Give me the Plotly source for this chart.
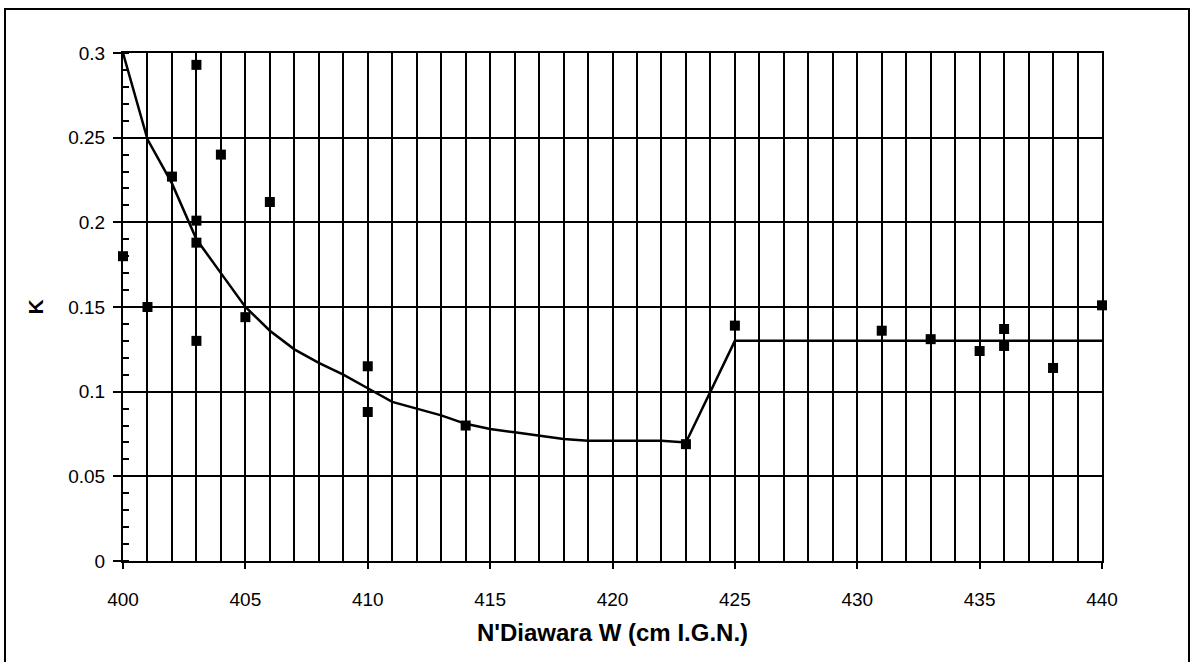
import plotly.graph_objects as go

# Measured points
obs_x = [400, 401, 402, 403, 403, 403, 403, 404, 405, 406, 410, 410, 414, 423,
         425, 431, 433, 435, 436, 436, 438, 440]
obs_k = [0.180, 0.150, 0.227, 0.293, 0.201, 0.188, 0.130, 0.240, 0.144, 0.212,
         0.115, 0.088, 0.080, 0.069, 0.139, 0.136, 0.131, 0.124, 0.137, 0.127,
         0.114, 0.151]

# Fitted curve
fit_x = [400, 401, 402, 403, 404, 405, 406, 407, 408, 409, 410, 411, 412, 413,
         414, 415, 416, 417, 418, 419, 420, 421, 422, 423, 425, 440]
fit_k = [0.300, 0.249, 0.223, 0.190, 0.170, 0.150, 0.136, 0.125, 0.117, 0.110,
         0.102, 0.094, 0.090, 0.086, 0.081, 0.078, 0.076, 0.074, 0.072, 0.071,
         0.071, 0.071, 0.071, 0.070, 0.130, 0.130]

x_ticks = [400, 405, 410, 415, 420, 425, 430, 435, 440]
y_ticks = [0, 0.05, 0.1, 0.15, 0.2, 0.25, 0.3]
y_labels = ["0", "0.05", "0.1", "0.15", "0.2", "0.25", "0.3"]

fig = go.Figure()
fig.add_trace(go.Scatter(x=fit_x, y=fit_k, mode="lines",
                         line=dict(color="black", width=2.5), showlegend=False,
                         cliponaxis=False))
fig.add_trace(go.Scatter(x=obs_x, y=obs_k, mode="markers",
                         marker=dict(symbol="square", size=10, color="black"),
                         showlegend=False, cliponaxis=False))

font = "Liberation Sans, Arial, sans-serif"
fig.update_layout(
    width=1191, height=662,
    margin=dict(l=123, r=89, t=53, b=101),
    paper_bgcolor="white", plot_bgcolor="white",
    font=dict(family=font, color="black", size=19),
    xaxis=dict(range=[400, 440], tickvals=x_ticks, ticktext=[str(v) for v in x_ticks],
               showgrid=True, gridcolor="black", gridwidth=2,
               ticks="outside", ticklen=6, tickwidth=2, tickcolor="black",
               showline=True, linecolor="black", linewidth=2, mirror=True,
               zeroline=False, ticklabelstandoff=14,
               minor=dict(dtick=1, showgrid=True, gridcolor="black", gridwidth=2, ticks=""),
               title=dict(text="<b>N'Diawara W (cm I.G.N.)</b>", font=dict(size=24), standoff=15),
               tickfont=dict(size=19)),
    yaxis=dict(range=[0, 0.3], tickvals=y_ticks, ticktext=y_labels,
               showgrid=True, gridcolor="black", gridwidth=2,
               ticks="outside", ticklen=8, tickwidth=2, tickcolor="black",
               showline=True, linecolor="black", linewidth=2, mirror=True,
               zeroline=False, ticklabelstandoff=4,
               minor=dict(dtick=0.01, ticks="inside", ticklen=6, tickwidth=1.5, tickcolor="black", showgrid=False),
               title=dict(text="<b>K</b>", font=dict(size=21), standoff=19),
               tickfont=dict(size=19)),
)
# outer frame
fig.add_shape(type="rect", xref="paper", yref="paper",
              x0=(5 - 123) / 979, x1=(1189 - 123) / 979,
              y0=(561 - 700) / 508, y1=(561 - 9) / 508,
              line=dict(color="black", width=2), layer="below")

fig.write_html("out.html", config={"displayModeBar": False},
               post_script="document.body.style.margin='0';document.body.style.overflow='hidden';")
